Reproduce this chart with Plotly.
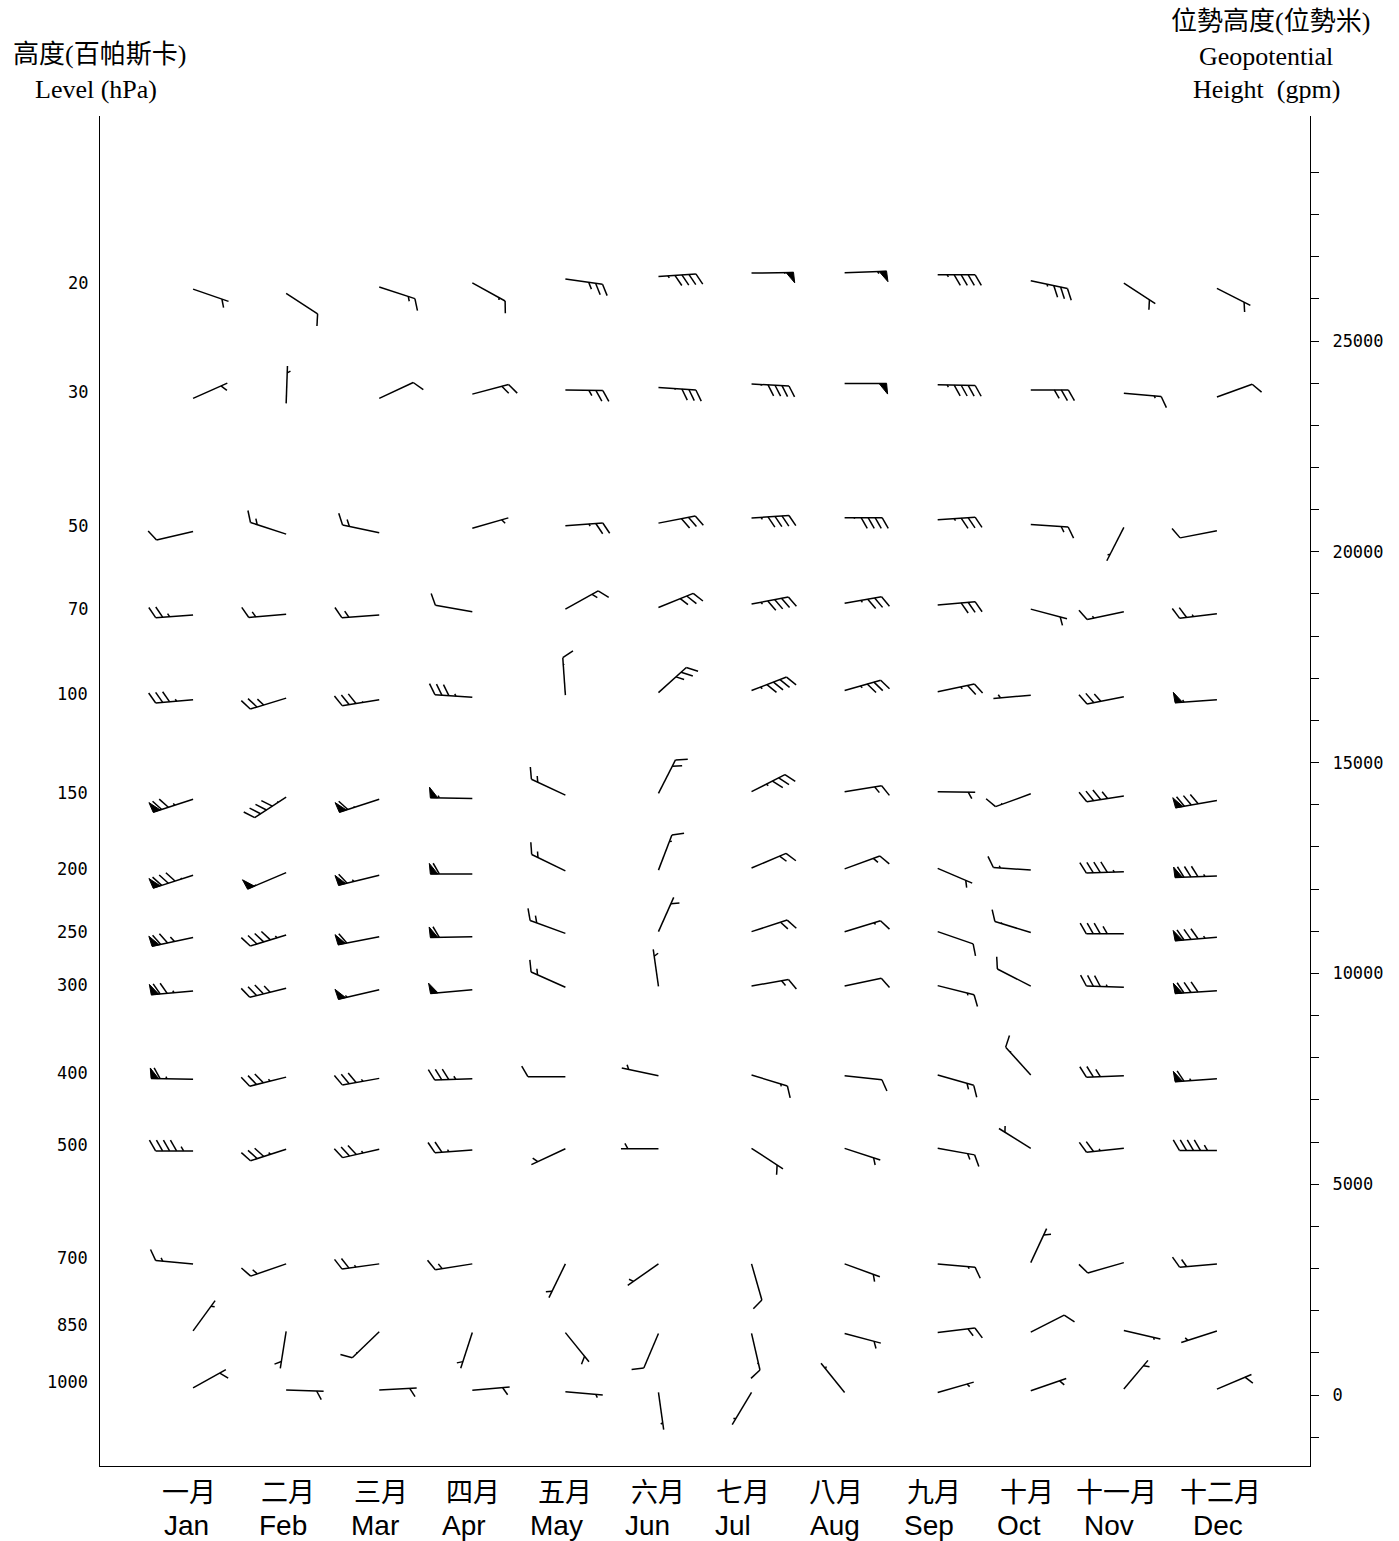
import math
import plotly.graph_objects as go

# ---------------- data ----------------
levels = [20, 30, 50, 70, 100, 150, 200, 250, 300, 400, 500, 700, 850, 1000]
months_cn = ["一月", "二月", "三月", "四月", "五月", "六月", "七月", "八月", "九月", "十月", "十一月", "十二月"]
months_en = ["Jan", "Feb", "Mar", "Apr", "May", "Jun", "Jul", "Aug", "Sep", "Oct", "Nov", "Dec"]

# monthly mean geopotential height (gpm) of each level, Jan..Dec
hgt_20 = [26230, 26130, 26280, 26380, 26470, 26530, 26610, 26620, 26570, 26430, 26370, 26250]
hgt_30 = [23640, 23520, 23640, 23740, 23840, 23900, 23980, 23990, 23960, 23840, 23760, 23670]
hgt_50 = [20480, 20420, 20450, 20560, 20620, 20680, 20800, 20810, 20760, 20650, 20580, 20500]
hgt_70 = [18500, 18520, 18500, 18580, 18640, 18680, 18760, 18780, 18740, 18640, 18580, 18530]
hgt_100 = [16490, 16530, 16490, 16550, 16600, 16660, 16710, 16710, 16680, 16600, 16560, 16490]
hgt_150 = [14130, 14180, 14130, 14150, 14230, 14270, 14310, 14310, 14310, 14260, 14210, 14100]
hgt_200 = [12330, 12390, 12330, 12360, 12430, 12450, 12500, 12480, 12490, 12450, 12410, 12310]
hgt_250 = [10850, 10910, 10870, 10870, 10950, 10990, 10990, 10990, 10990, 10970, 10940, 10860]
hgt_300 = [9580, 9650, 9610, 9610, 9670, 9690, 9700, 9700, 9710, 9700, 9670, 9590]
hgt_400 = [7490, 7540, 7510, 7500, 7550, 7570, 7590, 7570, 7590, 7590, 7570, 7500]
hgt_500 = [5790, 5830, 5830, 5810, 5840, 5840, 5850, 5850, 5850, 5850, 5850, 5800]
hgt_700 = [3110, 3110, 3110, 3110, 3110, 3110, 3110, 3110, 3110, 3140, 3140, 3110]
hgt_850 = [1520, 1510, 1500, 1480, 1480, 1460, 1460, 1460, 1480, 1490, 1530, 1520]
hgt_1000 = [170, 120, 120, 110, 80, 60, 60, 60, 60, 100, 140, 140]

# wind direction (deg, from) Jan..Dec
dir_20 = [109, 123, 108, 119, 98, 86, 89, 88, 90, 102, 123, 117]
dir_30 = [66, 2, 65, 75, 91, 94, 93, 90, 91, 90, 95, 70]
dir_50 = [257, 288, 282, 74, 86, 79, 86, 90, 86, 94, 207, 259]
dir_70 = [266, 265, 266, 280, 61, 68, 79, 80, 85, 105, 258, 263]
dir_100 = [265, 253, 261, 274, 356, 48, 69, 74, 78, 265, 259, 266]
dir_150 = [252, 237, 252, 271, 295, 27, 63, 81, 91, 250, 261, 260]
dir_200 = [252, 247, 256, 270, 296, 21, 67, 70, 113, 274, 268, 268]
dir_250 = [258, 253, 259, 269, 290, 24, 72, 73, 109, 287, 270, 265]
dir_300 = [265, 256, 257, 265, 294, 352, 80, 78, 104, 297, 272, 266]
dir_400 = [271, 256, 260, 268, 270, 282, 107, 96, 106, 318, 268, 266]
dir_500 = [270, 252, 257, 266, 245, 270, 123, 108, 100, 302, 264, 270]
dir_700 = [275, 251, 262, 261, 206, 235, 164, 110, 95, 25, 254, 265]
dir_850 = [36, 189, 226, 198, 141, 203, 167, 105, 83, 63, 103, 252]
dir_1000 = [61, 92, 87, 85, 95, 172, 211, 321, 74, 71, 40, 67]

# wind speed (knots) Jan..Dec
spd_20 = [7, 10, 14, 12, 26, 42, 51, 52, 42, 32, 8, 8]
spd_30 = [6, 3, 10, 18, 25, 31, 41, 50, 42, 28, 12, 10]
spd_50 = [10, 15, 16, 4, 22, 30, 42, 41, 32, 15, 2, 10]
spd_70 = [23, 15, 16, 10, 15, 28, 42, 32, 30, 7, 12, 22]
spd_100 = [32, 27, 31, 32, 11, 27, 42, 32, 22, 3, 28, 52]
spd_150 = [72, 41, 61, 52, 15, 18, 32, 16, 6, 11, 37, 80]
spd_200 = [81, 51, 62, 60, 15, 12, 17, 15, 6, 12, 42, 82]
spd_250 = [75, 42, 60, 60, 16, 7, 18, 12, 10, 11, 37, 82]
spd_300 = [72, 37, 52, 50, 15, 4, 15, 10, 12, 10, 32, 80]
spd_400 = [62, 32, 32, 33, 10, 4, 12, 10, 15, 11, 27, 62]
spd_500 = [44, 32, 32, 22, 5, 5, 8, 6, 15, 5, 22, 45]
spd_700 = [13, 15, 22, 15, 5, 4, 10, 6, 12, 6, 10, 17]
spd_850 = [3, 6, 11, 5, 7, 10, 11, 6, 17, 10, 2, 3]
spd_1000 = [8, 8, 8, 7, 3, 2, 2, 2, 3, 5, 5, 8]

hgt = [hgt_20, hgt_30, hgt_50, hgt_70, hgt_100, hgt_150, hgt_200, hgt_250,
       hgt_300, hgt_400, hgt_500, hgt_700, hgt_850, hgt_1000]
wdir = [dir_20, dir_30, dir_50, dir_70, dir_100, dir_150, dir_200, dir_250,
        dir_300, dir_400, dir_500, dir_700, dir_850, dir_1000]
wspd = [spd_20, spd_30, spd_50, spd_70, spd_100, spd_150, spd_200, spd_250,
        spd_300, spd_400, spd_500, spd_700, spd_850, spd_1000]

# ---------------- layout geometry ----------------
W, H = 1399, 1541
PL, PR, PT, PB = 100, 1310, 116, 1466          # plot area in pixels
X_RANGE = [0, 13]
PX_PER_MONTH = (PR - PL) / (X_RANGE[1] - X_RANGE[0])
PX_PER_GPM = 0.04216
Y0_PX = 1395                                     # pixel row of 0 gpm
Y_RANGE = [-(PB - Y0_PX) / PX_PER_GPM, (Y0_PX - PT) / PX_PER_GPM]

# barb glyph style (pixels)
STAFF = 37.5
PEN_EXTRA = 4.5
PEN_W = 7.5
PEN_L = 10.5
BARB = 12.3
SPACING = 7.0
SIN60, COS60 = math.sin(math.radians(60)), math.cos(math.radians(60))

seg_x, seg_y = [], []
pol_x, pol_y = [], []


def add_glyph(xm, yh, theta, spd):
    t = math.radians(theta)
    ux, uy = math.sin(t), -math.cos(t)          # screen, y down
    nx, ny = math.cos(t), math.sin(t)           # clockwise side
    bx, by = nx * SIN60 + ux * COS60, ny * SIN60 + uy * COS60

    def pt(dx, dy):
        return xm + dx / PX_PER_MONTH, yh - dy / PX_PER_GPM

    def seg(p, q):
        a, b = pt(*p), pt(*q)
        seg_x.extend([a[0], b[0], None])
        seg_y.extend([a[1], b[1], None])

    P = int(spd // 50)
    rem = spd - 50 * P
    F = int(rem // 10)
    r = rem - 10 * F
    Ls = STAFF + PEN_EXTRA * P
    seg((0, 0), (ux * Ls, uy * Ls))
    pos = Ls
    for _ in range(P):
        A = (ux * pos, uy * pos)
        B = (ux * (pos - PEN_W), uy * (pos - PEN_W))
        T = (A[0] + nx * PEN_L + ux * 1.0, A[1] + ny * PEN_L + uy * 1.0)
        for p in (A, T, B, A):
            q = pt(*p)
            pol_x.append(q[0])
            pol_y.append(q[1])
        pol_x.append(None)
        pol_y.append(None)
        pos -= PEN_W + 1.5
    if P == 0 and F == 0:
        pos = Ls - SPACING
    for _ in range(F):
        base = (ux * pos, uy * pos)
        seg(base, (base[0] + bx * BARB, base[1] + by * BARB))
        pos -= SPACING
    if r >= 0.5:
        L = BARB * r / 10.0
        base = (ux * pos, uy * pos)
        seg(base, (base[0] + bx * L, base[1] + by * L))


for li, lev in enumerate(levels):
    for mi in range(12):
        add_glyph(mi + 1, hgt[li][mi], wdir[li][mi], wspd[li][mi])

fig = go.Figure()
fig.add_trace(go.Scatter(x=pol_x, y=pol_y, mode="lines", fill="toself",
                         fillcolor="black", line=dict(color="black", width=1),
                         hoverinfo="skip", showlegend=False))
fig.add_trace(go.Scatter(x=seg_x, y=seg_y, mode="lines",
                         line=dict(color="black", width=1.5),
                         hoverinfo="skip", showlegend=False))
# invisible trace to anchor the right-hand height axis
fig.add_trace(go.Scatter(x=[0], y=[0], yaxis="y2", mode="markers",
                         marker=dict(opacity=0), hoverinfo="skip", showlegend=False))

tick_vals = list(range(-1000, 29001, 1000))
tick_text = [str(v) if v % 5000 == 0 and v >= 0 else "" for v in tick_vals]

fig.update_layout(
    width=W, height=H,
    margin=dict(l=PL, r=W - PR, t=PT, b=H - PB, pad=0),
    paper_bgcolor="white", plot_bgcolor="white",
    showlegend=False,
    xaxis=dict(range=X_RANGE, showgrid=False, zeroline=False, showticklabels=False,
               ticks="", showline=True, linecolor="black", linewidth=1, fixedrange=True),
    yaxis=dict(range=Y_RANGE, showgrid=False, zeroline=False, showticklabels=False,
               ticks="", showline=True, linecolor="black", linewidth=1, fixedrange=True),
    yaxis2=dict(range=Y_RANGE, overlaying="y", side="right", showgrid=False,
                zeroline=False, showline=True, linecolor="black", linewidth=1,
                ticks="outside", ticklen=8, tickcolor="black", tickwidth=1,
                tickmode="array", tickvals=tick_vals, ticktext=tick_text,
                ticklabelstandoff=10,
                tickfont=dict(family="DejaVu Sans Mono", size=17, color="black"),
                fixedrange=True),
)


def px_to_paper(px, py):
    return (px - PL) / (PR - PL), (PB - py) / (PB - PT)


annotations = []
# level labels (left)
for li, lev in enumerate(levels):
    annotations.append(dict(x=0, xref="paper", y=hgt[li][0], yref="y",
                            text=str(lev), showarrow=False, xanchor="right",
                            yanchor="middle", xshift=-10, yshift=6,
                            font=dict(family="DejaVu Sans Mono", size=17, color="black")))

# month labels (bottom)
cn_dx = [-4, 2, 2, 1, 0, 0, -9, -9, -4, -4, -7, 4]
en_dx = [-7, -3, -4, -8, -9, -11, -19, -10, -9, -12, -15, 1]
for mi in range(12):
    annotations.append(dict(x=mi + 1, xref="x", y=0, yref="paper", text=months_cn[mi],
                            showarrow=False, xanchor="center", yanchor="middle",
                            xshift=cn_dx[mi], yshift=-24,
                            font=dict(family="Noto Sans CJK TC", size=27, color="black")))
    annotations.append(dict(x=mi + 1, xref="x", y=0, yref="paper", text=months_en[mi],
                            showarrow=False, xanchor="center", yanchor="middle",
                            xshift=en_dx[mi], yshift=-59,
                            font=dict(family="Liberation Sans, Arial", size=28, color="black")))

serif = "Liberation Serif, Noto Sans CJK TC, serif"
titles = [
    ("高度(百帕斯卡)", 99, 55),
    ("Level (hPa)", 96, 90),
    ("位勢高度(位勢米)", 1270, 22),
    ("Geopotential", 1266, 57),
    ("Height\u00a0 (gpm)", 1266, 90),
]
for txt, px, py in titles:
    xp, yp = px_to_paper(px, py)
    annotations.append(dict(x=xp, y=yp, xref="paper", yref="paper", text=txt,
                            showarrow=False, xanchor="center", yanchor="middle",
                            font=dict(family=serif, size=26, color="black")))

fig.update_layout(annotations=annotations)
fig.write_html("out.html",
               config={"displayModeBar": False, "staticPlot": True},
               post_script="document.body.style.margin='0';document.body.style.overflow='hidden';")
